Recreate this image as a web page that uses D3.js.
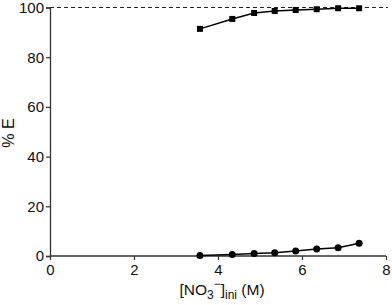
<!DOCTYPE html>
<html>
<head>
<meta charset="utf-8">
<script src="https://cdn.jsdelivr.net/npm/d3@7"></script>
<style>
  body { margin: 0; background: #fff; }
  svg text { font-family: "Liberation Sans", Arial, sans-serif; fill: #111; }
</style>
</head>
<body>
<svg id="chart" width="392" height="305"></svg>
<script>
// [NO3-]ini (M)
var nitrate = [3.57, 4.34, 4.86, 5.35, 5.85, 6.35, 6.86, 7.36];
var upperE = [91.4, 95.4, 97.8, 98.6, 99.0, 99.3, 99.7, 99.7];
var lowerE = [0.25, 0.65, 1.05, 1.3, 2.0, 2.8, 3.3, 5.1];
var xTicks = [0, 2, 4, 6, 8];
var yTicks = [0, 20, 40, 60, 80, 100];

var svg = d3.select('#chart');

var x = d3.scaleLinear().domain([0, 8]).range([50, 386]);
var y = d3.scaleLinear().domain([0, 100]).range([256, 7.5]);

// dashed 100% reference
svg.append('line')
  .attr('x1', x(0)).attr('x2', 388)
  .attr('y1', y(100)).attr('y2', y(100))
  .attr('stroke', '#222').attr('stroke-width', 1)
  .attr('stroke-dasharray', '4,3');

var xAxis = svg.append('g')
  .attr('transform', 'translate(0,' + y(0) + ')')
  .call(d3.axisBottom(x).tickValues(xTicks).tickSize(4).tickPadding(4));

var yAxis = svg.append('g')
  .attr('transform', 'translate(' + x(0) + ',0)')
  .call(d3.axisLeft(y).tickValues(yTicks).tickSize(4).tickPadding(2));

[xAxis, yAxis].forEach(function (g) {
  g.select('.domain').attr('stroke', '#333').attr('stroke-width', 1.3);
  g.selectAll('.tick line').attr('stroke', '#333').attr('stroke-width', 1.2);
  g.selectAll('.tick text').attr('font-size', 15).attr('fill', '#111')
    .style('font-family', '"Liberation Sans", Arial, sans-serif');
});
xAxis.select('.domain').attr('d', 'M' + x(0) + ',0H' + x(8));

var line = d3.line()
  .x(function (d) { return x(d[0]); })
  .y(function (d) { return y(d[1]); });

var upper = d3.zip(nitrate, upperE);
var lower = d3.zip(nitrate, lowerE);

svg.append('path').datum(upper)
  .attr('d', line).attr('fill', 'none')
  .attr('stroke', '#000').attr('stroke-width', 1.5);

svg.append('path').datum(lower)
  .attr('d', line).attr('fill', 'none')
  .attr('stroke', '#000').attr('stroke-width', 1.5);

svg.selectAll('rect.sq').data(upper).enter().append('rect')
  .attr('class', 'sq')
  .attr('x', function (d) { return x(d[0]) - 3; })
  .attr('y', function (d) { return y(d[1]) - 3; })
  .attr('width', 6).attr('height', 6)
  .attr('fill', '#000');

svg.selectAll('circle.ci').data(lower).enter().append('circle')
  .attr('class', 'ci')
  .attr('cx', function (d) { return x(d[0]); })
  .attr('cy', function (d) { return y(d[1]); })
  .attr('r', 3.5)
  .attr('fill', '#000');

// axis titles
svg.append('text')
  .attr('transform', 'translate(14,133) rotate(-90)')
  .attr('text-anchor', 'middle')
  .attr('font-size', 16)
  .text('% E');

var xt = svg.append('text')
  .attr('x', 222).attr('y', 295)
  .attr('text-anchor', 'middle')
  .attr('font-size', 15.5);
xt.append('tspan').text('[NO');
xt.append('tspan').attr('font-size', 12).attr('dy', 4).text('3');
xt.append('tspan').attr('font-size', 12).attr('dy', -11).text('\u2212');
xt.append('tspan').attr('dy', 7).text(']');
xt.append('tspan').attr('font-size', 12).attr('dy', 4).text('ini');
xt.append('tspan').attr('dy', -4).text(' (M)');
</script>
</body>
</html>
